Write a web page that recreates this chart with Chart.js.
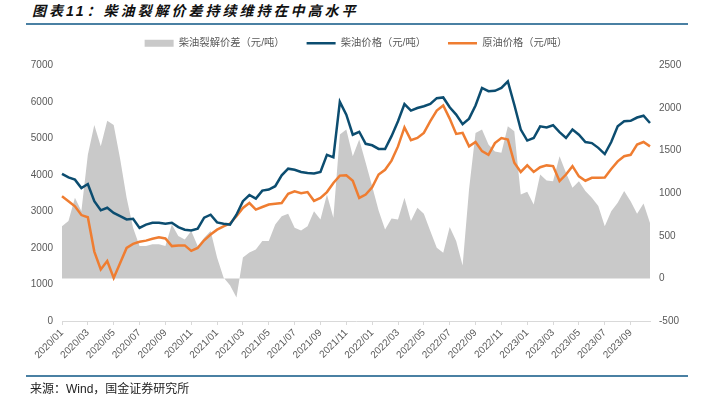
<!DOCTYPE html>
<html>
<head>
<meta charset="utf-8">
<script src="https://cdn.jsdelivr.net/npm/chart.js@4.4.0/dist/chart.umd.min.js"></script>
<style>
  body { margin: 0; background: #fff; }
  #page { position: relative; width: 707px; height: 399px; overflow: hidden; font-family: "Liberation Sans", "Noto Sans CJK SC", sans-serif; }
  #title { position: absolute; left: 32px; top: 3px; font: italic bold 14px/16px "Liberation Sans", "Noto Sans CJK SC", sans-serif; letter-spacing: 3px; color: #111; }
  .rule { position: absolute; left: 26px; width: 662px; height: 2px; background: #4a80a3; }
  #source { position: absolute; left: 30px; top: 381px; font-size: 12px; line-height: 16px; color: #222; }
  #wrap { position: absolute; left: 0; top: 0; width: 707px; height: 399px; }
</style>
</head>
<body>
<div id="page">
  <div id="title">图表11：柴油裂解价差持续维持在中高水平</div>
  <div class="rule" style="top:23px"></div>
  <div id="wrap"><canvas id="myChart"></canvas></div>
  <div class="rule" style="top:375px"></div>
  <div id="source">来源：Wind，国金证券研究所</div>
</div>
<script>
// half-monthly points, 2020/01/01 .. 2023/10/16
const categories = [];
for (let y = 2020; y <= 2023; y++) {
  for (let m = 1; m <= 12; m++) {
    if (y === 2023 && m > 10) break;
    for (const d of ['01', '16']) categories.push(y + '/' + String(m).padStart(2, '0') + '/' + d);
  }
}

// 柴油裂解价差 (right axis)
const crackSpread = [
  613, 672, 945, 790, 1450, 1800, 1550, 1850, 1800, 1400,
  945, 594, 380, 380, 400, 400, 380, 633, 496, 457,
  555, 380, 477, 555, 246, 10, -82, -225, 246, 304,
  340, 438, 438, 633, 730, 758, 594, 563, 613, 789,
  692, 985, 711, 1688, 1746, 1434, 1629, 1356, 1082, 797,
  574, 703, 692, 945, 672, 828, 758, 555, 360, 300,
  602, 440, 150, 1050, 1707, 1746, 1570, 1490, 1473, 1785,
  1727, 985, 1016, 867, 1219, 1149, 1141, 1434, 1239, 1063,
  1141, 1024, 945, 848, 613, 789, 887, 1024, 906, 758,
  880, 650
];

// 柴油价格 (left axis)
const dieselPrice = [
  4030, 3930, 3870, 3640, 3750, 3280, 3030, 3100, 2960, 2870,
  2780, 2800, 2550, 2640, 2690, 2690, 2660, 2690, 2570, 2500,
  2480, 2530, 2830, 2910, 2700, 2665, 2640, 2910, 3280, 3450,
  3350, 3570, 3600, 3690, 3990, 4170, 4140, 4080, 4050, 4040,
  4080, 4550, 4480, 6000, 5650, 5100, 5180, 4850, 4810, 4710,
  4710, 5060, 5470, 5940, 5760, 5830, 5880, 5940, 6100, 6120,
  5850, 5650, 5390, 5540, 5900, 6380, 6290, 6300, 6380, 6560,
  5920, 5240, 4940, 5010, 5330, 5300, 5360, 5170, 5010, 5240,
  5100, 4900, 4870, 4740, 4570, 4900, 5330, 5470, 5480, 5570,
  5620, 5420
];

// 原油价格 (left axis)
const crudePrice = [
  3415, 3280, 3140, 2900, 2840, 1900, 1410, 1640, 1180, 1590,
  2000, 2110, 2170, 2200, 2250, 2290, 2260, 2050, 2070, 2070,
  1920, 2000, 2210, 2366, 2500, 2593, 2667, 2866, 3096, 3230,
  3050, 3120, 3190, 3210, 3230, 3480, 3550, 3500, 3530, 3290,
  3370, 3530, 3780, 3980, 3990, 3840, 3370, 3460, 3660, 4010,
  4140, 4390, 4780, 5300, 4950, 5010, 5150, 5470, 5760, 5900,
  5540, 5120, 5150, 4780, 4900, 4650, 4550, 4870, 5010, 4970,
  4330, 4080, 4260, 4080, 4210, 4260, 4240, 3830, 4010, 4240,
  3960, 3840, 3920, 3920, 3930, 4160, 4370, 4510, 4550, 4830,
  4900, 4780
];

const leftTicks = { min: 0, max: 7000, step: 1000 };
const rightTicks = { min: -500, max: 2500, step: 500 };

const tickColor = '#595959';
const axisColor = '#d9d9d9';

// pushes the plot down a little below the legend
const legendSpacer = {
  id: 'legendSpacer',
  beforeInit(chart) {
    const fit = chart.legend.fit;
    chart.legend.fit = function () {
      fit.bind(chart.legend)();
      this.height += 7;
    };
  }
};

const ctx = document.getElementById('myChart').getContext('2d');
new Chart(ctx, {
  type: 'line',
  data: {
    labels: categories,
    datasets: [
      {
        label: '柴油裂解价差（元/吨）',
        data: crackSpread,
        yAxisID: 'y1',
        fill: 'origin',
        backgroundColor: '#c9c9c9',
        borderColor: '#c9c9c9',
        borderWidth: 0,
        pointRadius: 0,
        pointStyle: 'rect',
        order: 3
      },
      {
        label: '柴油价格（元/吨）',
        data: dieselPrice,
        yAxisID: 'y',
        borderColor: '#0c4d70',
        backgroundColor: '#0c4d70',
        borderWidth: 2.5,
        pointRadius: 0,
        pointStyle: 'line',
        fill: false,
        order: 1
      },
      {
        label: '原油价格（元/吨）',
        data: crudePrice,
        yAxisID: 'y',
        borderColor: '#ef7d31',
        backgroundColor: '#ef7d31',
        borderWidth: 2.5,
        pointRadius: 0,
        pointStyle: 'line',
        fill: false,
        order: 2
      }
    ]
  },
  options: {
    responsive: true,
    maintainAspectRatio: false,
    animation: false,
    layout: { padding: { top: 16, left: 0, right: 0, bottom: 0 } },
    plugins: {
      tooltip: { enabled: false },
      legend: {
        position: 'top',
        fullSize: false,
        labels: {
          usePointStyle: true,
          pointStyleWidth: 29,
          boxHeight: 7,
          padding: 22,
          color: tickColor,
          font: { size: 10.3, family: '"Liberation Sans", "Noto Sans CJK SC", sans-serif' },
          sort: (a, b) => a.datasetIndex - b.datasetIndex
        }
      }
    },
    scales: {
      x: {
        grid: { display: true, drawOnChartArea: false, color: axisColor, tickLength: 4 },
        border: { display: true, color: axisColor },
        ticks: {
          autoSkip: false,
          maxRotation: 45,
          minRotation: 45,
          padding: 2,
          color: tickColor,
          font: { size: 10, family: '"Liberation Sans", sans-serif' },
          callback: function (value, index) {
            return index % 4 === 0 ? this.getLabelForValue(value).slice(0, 7) : null;
          }
        },
        afterFit: (scale) => { scale.height = 78; }
      },
      y: {
        position: 'left',
        min: leftTicks.min,
        max: leftTicks.max,
        grid: { display: false, drawTicks: false },
        border: { display: false },
        ticks: {
          stepSize: leftTicks.step,
          padding: 9,
          color: tickColor,
          font: { size: 10, family: '"Liberation Sans", sans-serif' },
          callback: (v) => String(v)
        },
        afterFit: (scale) => { scale.width = 62; }
      },
      y1: {
        position: 'right',
        min: rightTicks.min,
        max: rightTicks.max,
        grid: { display: false, drawTicks: false },
        border: { display: false },
        ticks: {
          stepSize: rightTicks.step,
          padding: 9,
          color: tickColor,
          font: { size: 10, family: '"Liberation Sans", sans-serif' },
          callback: (v) => String(v)
        },
        afterFit: (scale) => { scale.width = 57; }
      }
    }
  },
  plugins: [legendSpacer]
});
</script>
</body>
</html>
